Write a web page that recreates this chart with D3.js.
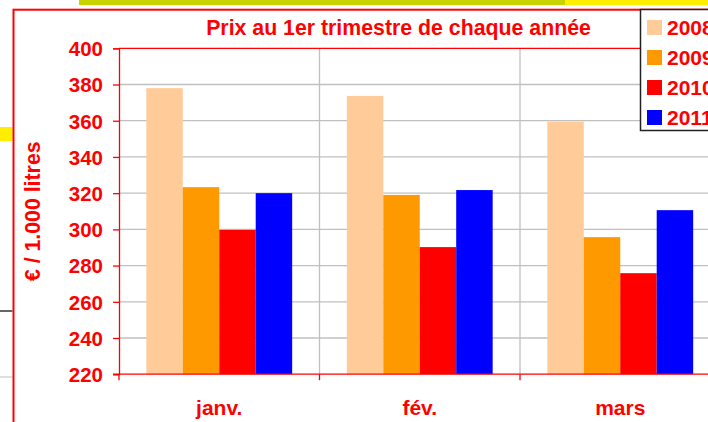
<!DOCTYPE html>
<html>
<head>
<meta charset="utf-8">
<script src="https://cdn.jsdelivr.net/npm/d3@7"></script>
<style>
html,body{margin:0;padding:0;background:#fff;overflow:hidden;}
svg{display:block;font-family:"Liberation Sans",Arial,sans-serif;font-weight:bold;}
</style>
</head>
<body>
<svg id="chart" width="708" height="422"></svg>
<script>
const categories = ["janv.", "fév.", "mars"];
const seriesNames = ["2008", "2009", "2010", "2011"];
const seriesColors = ["#ffcc99", "#ff9900", "#ff0000", "#0000ff"];
const values2008 = [378, 373.7, 359.5];
const values2009 = [323.3, 319, 295.7];
const values2010 = [299.7, 290.2, 275.8];
const values2011 = [320, 321.7, 310.6];
const yTicks = [220, 240, 260, 280, 300, 320, 340, 360, 380, 400];
const titleText = "Prix au 1er trimestre de chaque année";
const yAxisTitle = "€ / 1.000 litres";

(function () {
const seriesValues = [values2008, values2009, values2010, values2011];
const red = "#ff0000";
const svg = d3.select("#chart");

// page decoration behind the chart
svg.append("rect").attr("x", 79).attr("y", 0).attr("width", 486).attr("height", 5).attr("fill", "#c8d400");
svg.append("rect").attr("x", 565).attr("y", 0).attr("width", 143).attr("height", 5).attr("fill", "#ffee00");
svg.append("rect").attr("x", 0).attr("y", 127).attr("width", 12.5).attr("height", 14).attr("fill", "#ffee00");
svg.append("line").attr("x1", 0).attr("x2", 12.5).attr("y1", 311).attr("y2", 311).attr("stroke", "#000").attr("stroke-width", 1.2);
svg.append("line").attr("x1", 0).attr("x2", 12.5).attr("y1", 377).attr("y2", 377).attr("stroke", "#c8c8c8").attr("stroke-width", 1.2);

// chart frame
svg.append("rect").attr("x", 13.5).attr("y", 9.7).attr("width", 760).attr("height", 460)
  .attr("fill", "#fff").attr("stroke", red).attr("stroke-width", 2);

const pLeft = 119, pRight = 720.5, pTop = 48.3, pBottom = 374.2;
const x = d3.scaleBand().domain(categories).range([pLeft, pRight]).paddingInner(0).paddingOuter(0);
const y = d3.scaleLinear().domain([220, 400]).range([pBottom, pTop]);

// gridlines
const g = svg.append("g");
g.selectAll("line.h").data(yTicks.filter(t => t !== 220 && t !== 400)).join("line")
  .attr("x1", pLeft).attr("x2", pRight).attr("y1", d => y(d)).attr("y2", d => y(d))
  .attr("stroke", "#c0c0c0").attr("stroke-width", 1.3);
g.selectAll("line.v").data(categories.slice(1)).join("line")
  .attr("x1", d => x(d)).attr("x2", d => x(d)).attr("y1", pTop).attr("y2", pBottom)
  .attr("stroke", "#c0c0c0").attr("stroke-width", 1.3);

// bars
const bw = x.bandwidth() / 5.5;
const sub = d3.scaleBand().domain(seriesNames).range([0.75 * bw, 4.75 * bw]);
seriesNames.forEach((s, si) => {
  svg.append("g").selectAll("rect").data(categories).join("rect")
    .attr("x", (c) => x(c) + sub(s))
    .attr("width", sub.bandwidth())
    .attr("y", (c, i) => y(seriesValues[si][i]))
    .attr("height", (c, i) => y(220) - y(seriesValues[si][i]))
    .attr("fill", seriesColors[si]);
});

// top border of plot area
svg.append("line").attr("x1", pLeft).attr("x2", pRight).attr("y1", pTop).attr("y2", pTop).attr("stroke", red).attr("stroke-width", 1.3);

// y axis
const yAxis = d3.axisLeft(y).tickValues(yTicks).tickSize(6).tickPadding(10);
const ya = svg.append("g").attr("transform", `translate(${pLeft},0)`).call(yAxis);
ya.select(".domain").attr("stroke", red).attr("stroke-width", 1.3);
ya.selectAll(".tick line").attr("stroke", red).attr("stroke-width", 1.3);
ya.selectAll(".tick text").attr("fill", red).attr("font-size", "20.5px").attr("font-weight", "bold")
  .attr("font-family", "Liberation Sans, Arial, sans-serif").attr("x", -16).attr("dy", "0.36em");

// x axis
const xa = svg.append("g").attr("transform", `translate(0,${pBottom})`)
  .call(d3.axisBottom(x).tickSize(0).tickPadding(26));
xa.select(".domain").remove();
svg.append("line").attr("x1", pLeft - 6).attr("x2", pRight).attr("y1", pBottom).attr("y2", pBottom).attr("stroke", red).attr("stroke-width", 1.3);
svg.append("g").selectAll("line").data(categories.map(c => x(c)).concat([pRight])).join("line")
  .attr("x1", d => d).attr("x2", d => d).attr("y1", pBottom).attr("y2", pBottom + 6)
  .attr("stroke", red).attr("stroke-width", 1.3);
xa.selectAll(".tick text").attr("fill", red).attr("font-size", "21px").attr("font-weight", "bold")
  .attr("font-family", "Liberation Sans, Arial, sans-serif");

// title
svg.append("text").attr("x", 398.5).attr("y", 34.5).attr("text-anchor", "middle")
  .attr("fill", red).attr("font-size", "21.3px").text(titleText);

// y axis title
svg.append("text").attr("transform", `translate(40,${(pTop + pBottom) / 2}) rotate(-90)`)
  .attr("text-anchor", "middle").attr("fill", red).attr("font-size", "21.3px").text(yAxisTitle);

// legend (clipped at the right edge, as in the reference)
const lg = svg.append("g");
lg.append("rect").attr("x", 640.5).attr("y", 9.5).attr("width", 90).attr("height", 121)
  .attr("fill", "#fff").attr("stroke", "#222").attr("stroke-width", 1.5);
const ly = d3.scalePoint().domain(seriesNames).range([27.5, 117.5]);
seriesNames.forEach((s, i) => {
  lg.append("rect").attr("x", 647).attr("y", ly(s) - 7.5).attr("width", 15).attr("height", 15).attr("fill", seriesColors[i]);
  lg.append("text").attr("x", 667).attr("y", ly(s) + 7.5).attr("fill", red).attr("font-size", "21px").text(s);
});
})();
</script>
</body>
</html>
